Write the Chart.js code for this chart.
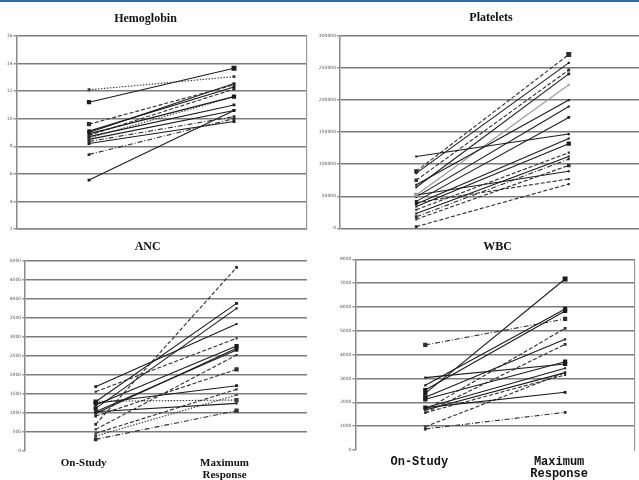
<!DOCTYPE html>
<html>
<head>
<meta charset="utf-8">
<script src="https://cdn.jsdelivr.net/npm/chart.js@4"></script>
<style>
  html, body { margin: 0; padding: 0; background: #fff; width: 639px; height: 480px; overflow: hidden; position: relative; }
  .bar { position: absolute; left: 0; top: 0; width: 639px; height: 2px; background: #2c6cb4; }
  canvas { position: absolute; }
</style>
</head>
<body>
<div class="bar"></div>
<canvas id="hgb" width="320" height="240" style="left:0;top:0"></canvas>
<canvas id="plt" width="330" height="240" style="left:319px;top:0"></canvas>
<canvas id="anc" width="320" height="240" style="left:0;top:240px"></canvas>
<canvas id="wbc" width="320" height="240" style="left:319px;top:240px"></canvas>
<script>
const stages = ['On-Study', ['Maximum', 'Response']];

// Hemoglobin
const hgbStart = [12.1, 11.2, 9.6, 9.1, 9.0, 8.9, 8.8, 8.7, 8.6, 8.5, 8.35, 8.2, 7.4, 5.55];
const hgbMax = [13.05, 13.66, 12.45, 12.3, 12.55, 11.6, 12.15, 11.0, 11.6, 10.6, 10.15, 9.8, 10.0, 10.6];

// Platelets
const pltStart = [112000, 89000, 86000, 75000, 68000, 64000, 52000, 49000, 42000, 38000, 34000, 29000, 23000, 18000, 14000, 52000, 40000, 2600];
const pltMax = [147000, 271000, 258000, 247000, 200000, 241000, 224000, 190000, 173000, 140000, 132000, 118000, 112000, 108000, 98000, 89000, 77000, 69000];

// ANC
const ancStart = [693, 1289, 1114, 1684, 1553, 1202, 982, 1026, 561, 912, 1250, 456, 386, 1300, 1026, 298];
const ancMax = [4825, 3877, 3746, 3333, 2956, 2754, 2693, 2649, 2518, 2140, 1711, 1614, 1465, 1333, 1246, 1053];

// WBC
const wbcStart = [4406, 2378, 2713, 2517, 3035, 2210, 1678, 1566, 2126, 1776, 1678, 1566, 1776, 979, 881];
const wbcMax = [5497, 7175, 5916, 5832, 3608, 4643, 5105, 4434, 3706, 3427, 3245, 3147, 2420, 3245, 1580];

// line styles per patient: s solid, d dashed, t dotted, x dash-dot, g grey
const hgbStyles = ['t','s','d','s','s','s','d','s','t','s','x','s','x','s'];
const pltStyles = ['s','d','s','d','s','s','g','s','s','s','s','d','s','x','d','s','d','d'];
const ancStyles = ['d','s','s','s','d','s','s','s','d','d','s','d','t','t','s','x'];
const wbcStyles = ['x','s','s','s','s','s','d','d','s','s','s','d','s','d','x'];

// marker radius at [on-study, max] per patient
const hgbMarks = [[2,2],[3,3.5],[3,2],[2.5,2],[2,2],[2,3],[2,2],[2,2],[2,2],[2,2],[2,2],[2,2],[2,2],[2,2]];
const pltMarks = [[1.5,1.5],[3,3.5],[1.5,1.5],[2.5,2],[1.5,1.5],[1.5,2],[3,1.5],[1.5,1.5],[2,2],[2,1.5],[1.5,3],[1.5,1.5],[1.5,1.5],[2,1.5],[1.5,2.5],[1.5,1.5],[1.5,1.5],[2,1.5]];
const ancMarks = [[2,2],[3,2],[3,1.5],[2,1.5],[1.5,1.5],[2,3],[2,2.5],[2,2.5],[1.5,1.5],[2,3],[3,2],[1.5,1.5],[2,1.5],[2,3],[1.5,1.5],[2.5,3]];
const wbcMarks = [[3,3],[3,3.5],[1.5,3],[3,3],[1.5,3],[3,1.5],[1.5,2],[1.5,2],[3,3],[3,1.5],[1.5,1.5],[1.5,1.5],[1.5,2],[1.5,1.5],[2,2]];

const dashes = { s: [], d: [4, 2], t: [1.5, 1.5], x: [5, 2, 1, 2], g: [] };
const colors = { s: '#1c1c1c', d: '#2e2e2e', t: '#3a3a3a', x: '#2e2e2e', g: '#9a9a9a' };

// moves the title to a given centre x after layout
const titleShift = {
    id: 'titleShift',
    afterLayout(chart, args, opts) {
        const t = chart.titleBlock;
        if (!t || opts.cx == null) return;
        const dx = opts.cx - (t.left + t.right) / 2;
        t.left += dx;
        t.right += dx;
    }
};

const makePanel = (id, cfg) => {
    const datasets = cfg.start.map((v, i) => {
        const st = cfg.styles[i];
        return {
            data: [v, cfg.max[i]],
            borderColor: colors[st],
            backgroundColor: colors[st],
            pointBackgroundColor: colors[st],
            pointBorderColor: colors[st],
            borderWidth: 1.1,
            borderDash: dashes[st],
            pointStyle: 'rect',
            pointRadius: cfg.marks[i],
            pointBorderWidth: 0
        };
    });

    const scales = {
        x: {
            offset: true,
            grid: { display: false, drawTicks: false },
            border: { display: cfg.bottomLine, color: '#8a8a8a', width: 1.5 },
            ticks: {
                display: cfg.xLabels,
                padding: cfg.xPad,
                labelOffset: cfg.labelOffset,
                color: '#111',
                font: cfg.xFont,
                maxRotation: 0,
                autoSkip: false
            },
            afterFit: s => { s.height = cfg.xHeight; }
        },
        y: {
            min: cfg.min,
            max: cfg.max_,
            grid: {
                color: ctx => (cfg.hideZero && ctx.tick && ctx.tick.value === cfg.min) ? 'rgba(0,0,0,0)' : '#7c7c7c',
                lineWidth: 1.5,
                tickLength: 3,
                tickColor: '#999'
            },
            border: { color: '#8a8a8a', width: 1.5 },
            ticks: {
                stepSize: cfg.step,
                padding: 1,
                color: '#555',
                font: { size: 4.5, family: 'DejaVu Sans' },
                callback: v => String(v)
            },
            afterFit: s => { s.width = cfg.yWidth; }
        }
    };
    if (cfg.rightLine) {
        scales.r = {
            position: 'right',
            min: cfg.min,
            max: cfg.max_,
            grid: { drawOnChartArea: false, drawTicks: false },
            border: { color: '#9a9a9a', width: 1.2 },
            ticks: { display: false },
            afterFit: s => { s.width = 0; }
        };
    }

    return new Chart(document.getElementById(id), {
        type: 'line',
        data: { labels: stages, datasets },
        options: {
            responsive: false,
            animation: false,
            layout: { padding: cfg.padding },
            scales,
            plugins: {
                legend: { display: false },
                tooltip: { enabled: false },
                title: {
                    display: true,
                    text: cfg.title,
                    color: '#111',
                    font: { family: 'Liberation Serif', size: 12, weight: 'bold', lineHeight: 1.2 },
                    padding: cfg.titlePad
                },
                titleShift: { cx: cfg.titleX }
            }
        },
        plugins: [titleShift]
    });
};

makePanel('hgb', {
    title: 'Hemoglobin', start: hgbStart, max: hgbMax, styles: hgbStyles, marks: hgbMarks,
    min: 2, max_: 16, step: 2, yWidth: 16.5, hideZero: false,
    padding: { left: 0, right: 13.5, top: 0, bottom: 11 },
    titlePad: { top: 12, bottom: 9.6 }, titleX: 145.5,
    xLabels: false, xHeight: 0, xPad: 0, labelOffset: 0, xFont: { size: 11 },
    bottomLine: true, rightLine: true
});

makePanel('plt', {
    title: 'Platelets', start: pltStart, max: pltMax, styles: pltStyles, marks: pltMarks,
    min: 0, max_: 300000, step: 50000, yWidth: 21, hideZero: false,
    padding: { left: 0, right: 3, top: 0, bottom: 11.7 },
    titlePad: { top: 11, bottom: 10.6 }, titleX: 172,
    xLabels: false, xHeight: 0, xPad: 0, labelOffset: 0, xFont: { size: 11 },
    bottomLine: false, rightLine: false
});

makePanel('anc', {
    title: 'ANC', start: ancStart, max: ancMax, styles: ancStyles, marks: ancMarks,
    min: 0, max_: 5000, step: 500, yWidth: 25.2, hideZero: true,
    padding: { left: 0, right: 13, top: 0, bottom: 0 },
    titlePad: { top: 0, bottom: 6.3 }, titleX: 147.7,
    xLabels: true, xHeight: 29.3, xPad: 6, labelOffset: -12,
    xFont: { family: 'Liberation Serif', size: 11, weight: 'bold', lineHeight: 1.1 },
    bottomLine: false, rightLine: false
});

makePanel('wbc', {
    title: 'WBC', start: wbcStart, max: wbcMax, styles: wbcStyles, marks: wbcMarks,
    min: 0, max_: 8000, step: 1000, yWidth: 36.4, hideZero: true,
    padding: { left: 0, right: 4, top: 0, bottom: 0 },
    titlePad: { top: 0, bottom: 4.9 }, titleX: 178.7,
    xLabels: true, xHeight: 30, xPad: 5.7, labelOffset: -6,
    xFont: { family: 'Liberation Mono', size: 12, weight: 'bold', lineHeight: 1.0 },
    bottomLine: false, rightLine: true
});
</script>
</body>
</html>
